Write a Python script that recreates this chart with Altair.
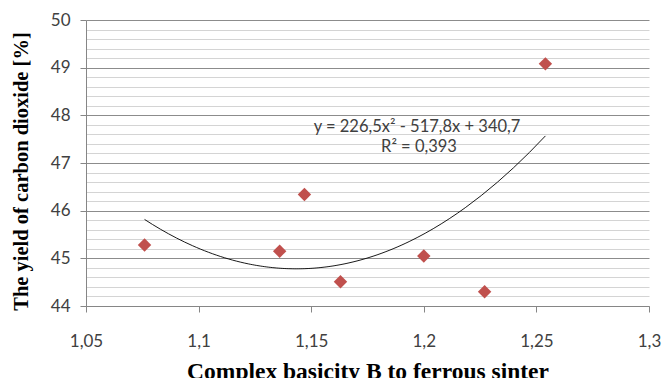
import altair as alt
import pandas as pd

basicity = [1.076, 1.136, 1.147, 1.163, 1.200, 1.227, 1.254]
co2_yield = [45.28, 45.15, 46.34, 44.51, 45.05, 44.30, 49.08]

x_ticks = [1.05, 1.1, 1.15, 1.2, 1.25, 1.3]
y_ticks = [44, 44.2, 44.4, 44.6, 44.8, 45, 45.2, 45.4, 45.6, 45.8, 46, 46.2, 46.4, 46.6, 46.8,
           47, 47.2, 47.4, 47.6, 47.8, 48, 48.2, 48.4, 48.6, 48.8, 49, 49.2, 49.4, 49.6, 49.8, 50]

equation = "y = 226,5x² - 517,8x + 340,7"
r_squared = "R² = 0,393"

df = pd.DataFrame({"x": basicity, "y": co2_yield})

is_major = "abs(datum.value - round(datum.value)) < 0.01"

x_enc = alt.X(
    "x:Q",
    scale=alt.Scale(domain=[1.05, 1.3], nice=False, zero=False),
    axis=alt.Axis(
        values=x_ticks,
        tickCount=20,
        labelExpr="replace(format(datum.value, '.2~f'), '.', ',')",
        labelOverlap=False,
        labelFlush=False,
        grid=False,
        domainColor="#868686",
        tickColor="#868686",
        tickSize=6,
        labelPadding=21,
        labelFont="Lato",
        labelFontSize=17,
        labelColor="#404040",
        title="Complex basicity B to ferrous sinter",
        titleFont="Liberation Serif",
        titleFontSize=23.5,
        titleFontWeight="bold",
        titleColor="#000000",
        titleBaseline="alphabetic",
        titleY=72,
    ),
)

y_enc = alt.Y(
    "y:Q",
    scale=alt.Scale(domain=[44, 50], nice=False, zero=False),
    axis=alt.Axis(
        values=y_ticks,
        tickCount=100,
        labelExpr=f"({is_major}) ? format(datum.value, 'd') : ''",
        labelOverlap=False,
        labelFlush=False,
        grid=True,
        gridColor={"condition": {"test": is_major, "value": "#8c8c8c"}, "value": "#d4d4d4"},
        gridWidth=1,
        domainColor="#868686",
        tickColor={"condition": {"test": is_major, "value": "#868686"}, "value": "transparent"},
        tickSize=6,
        labelPadding=10,
        labelFont="Lato",
        labelFontSize=17,
        labelColor="#404040",
        title="The yield of carbon dioxide [%]",
        titleFont="Liberation Serif",
        titleFontSize=20.5,
        titleFontWeight="bold",
        titleColor="#000000",
        titleAngle=-90,
        titleBaseline="alphabetic",
        titleAlign="center",
        titleX=-59,
        titleY=151,
    ),
)

points = alt.Chart(df).mark_point(
    shape="diamond", filled=True, size=180, color="#C0504D", opacity=1
).encode(x=x_enc, y=y_enc)

trend = alt.Chart(df).transform_regression(
    "x", "y", method="poly", order=2
).mark_line(color="#000000", strokeWidth=0.9).encode(x="x:Q", y="y:Q")

eq_df = pd.DataFrame({"t": [equation]})
r_df = pd.DataFrame({"t": [r_squared]})

eq_text = alt.Chart(eq_df).mark_text(
    font="Lato", fontSize=16.5, color="#404040", align="center", baseline="middle"
).encode(text="t:N", x=alt.value(331), y=alt.value(107))

r_text = alt.Chart(r_df).mark_text(
    font="Lato", fontSize=16.5, color="#404040", align="center", baseline="middle"
).encode(text="t:N", x=alt.value(333), y=alt.value(127))

chart = alt.layer(trend, points, eq_text, r_text).properties(
    width=563,
    height=286,
    padding={"left": 86, "top": 20, "right": 13, "bottom": 72},
    autosize=alt.AutoSizeParams(type="none"),
    background="white",
).configure_view(stroke=None)

chart.save("out.html", embed_options={"renderer": "svg", "actions": False})
